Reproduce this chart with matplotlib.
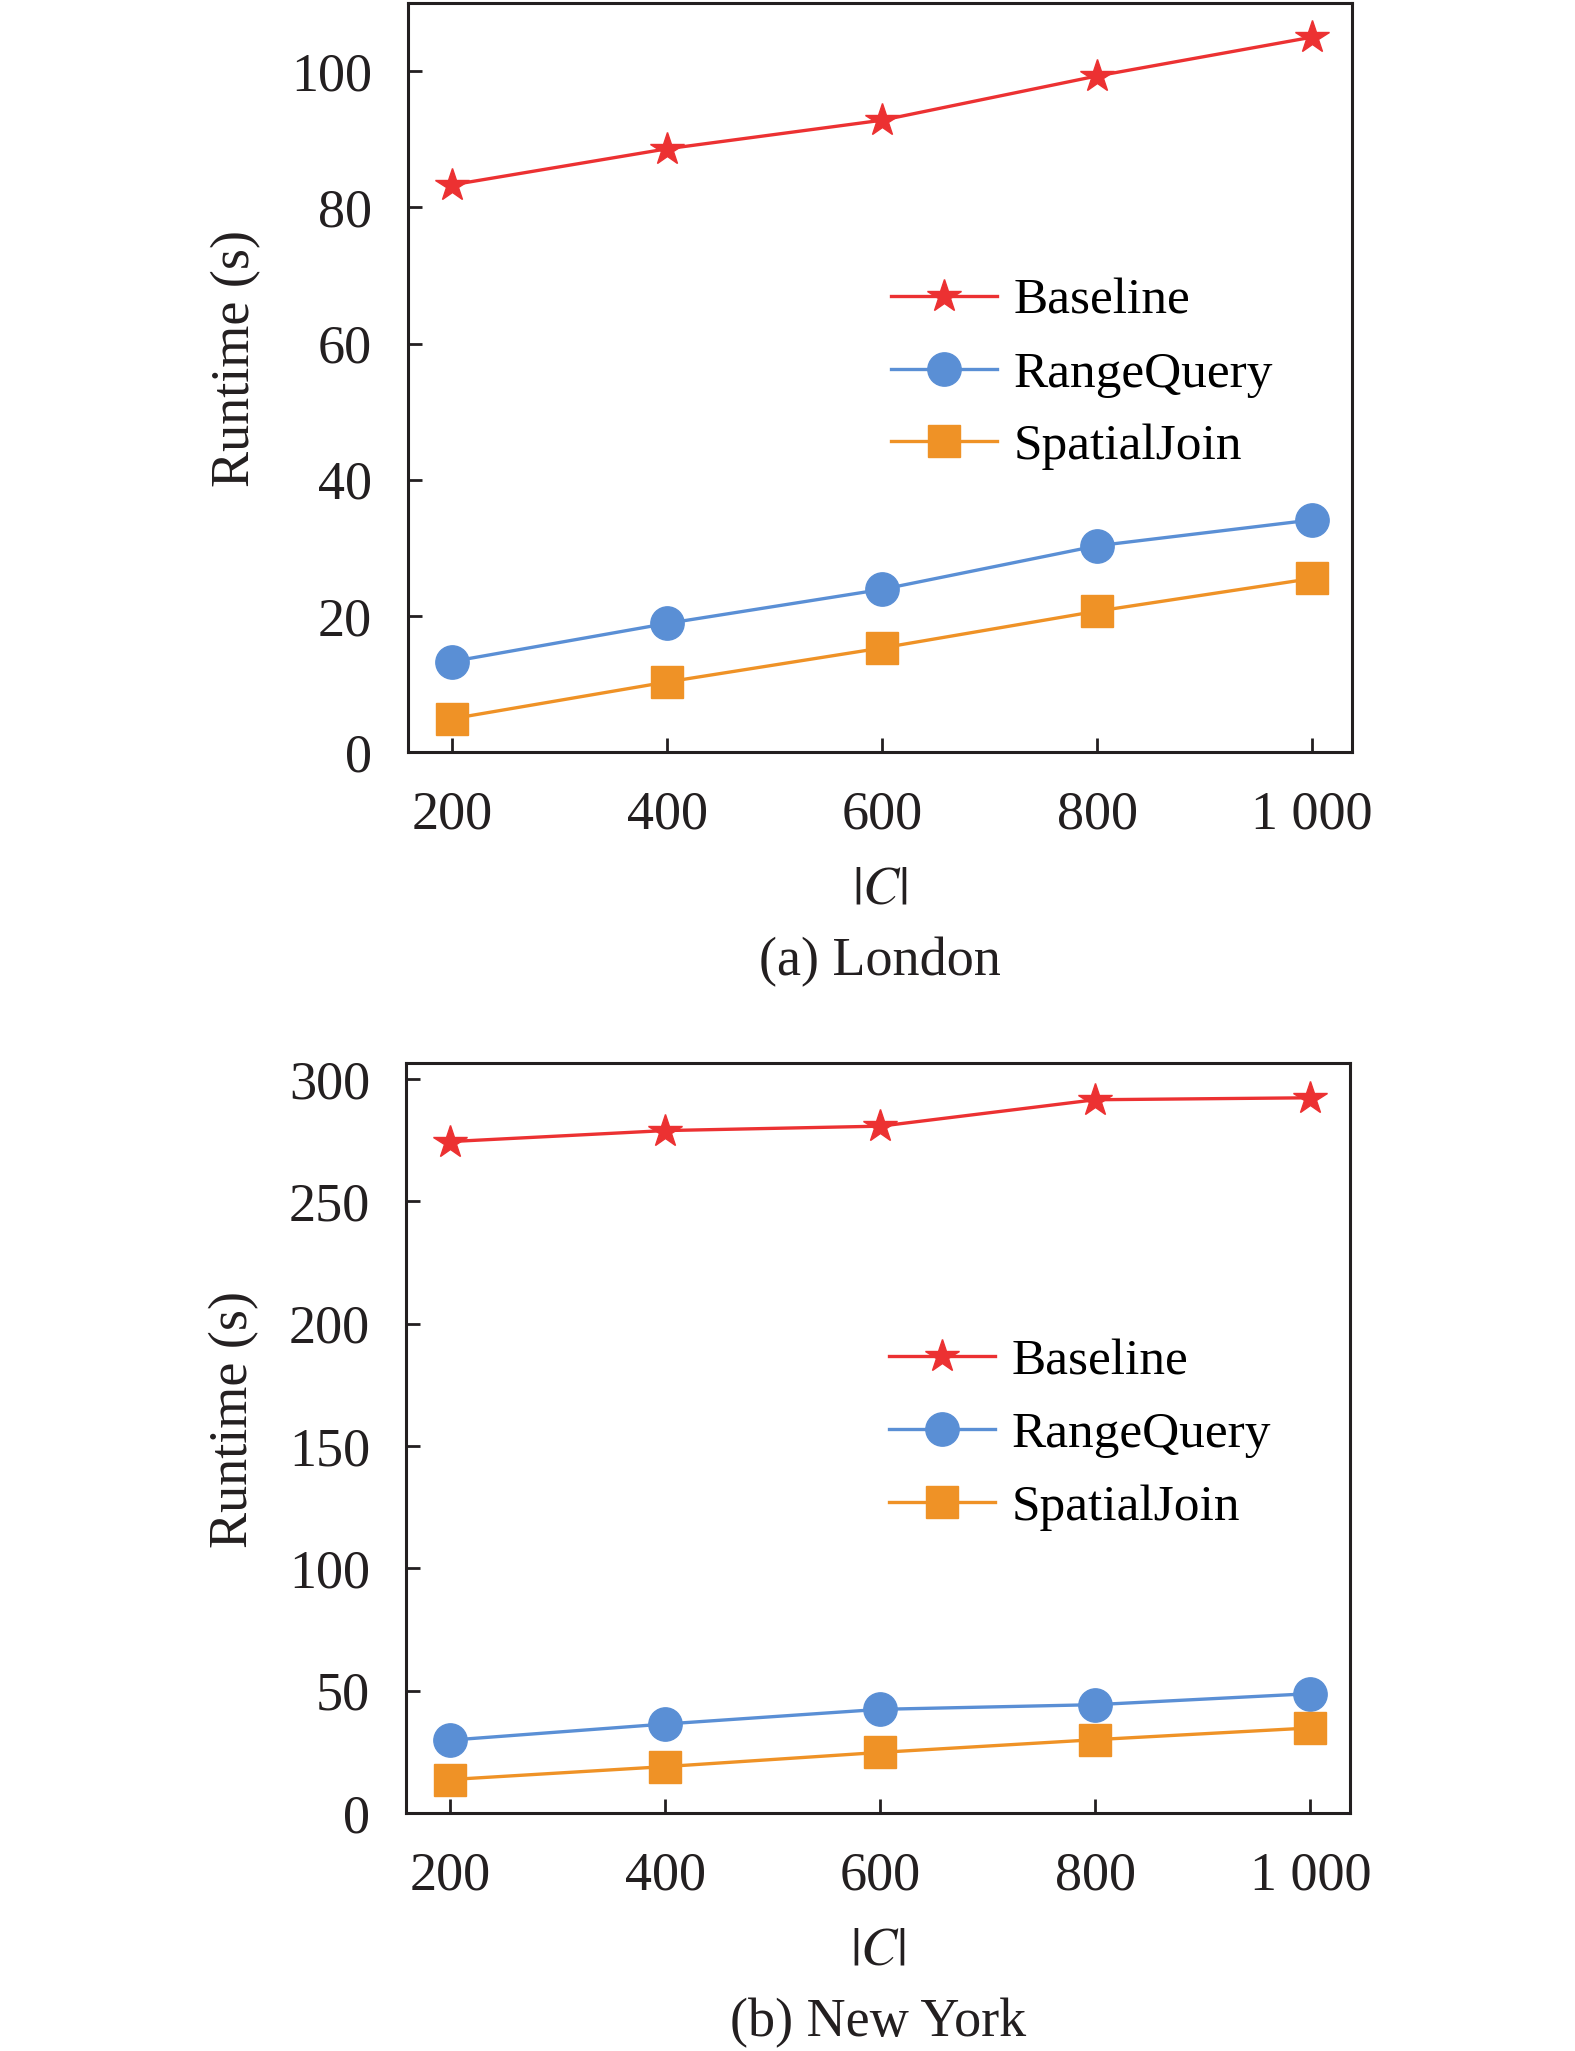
import matplotlib
matplotlib.use("Agg")
import matplotlib.pyplot as plt

# ============================================================
# Data
# ============================================================
sizes = [200, 400, 600, 800, 1000]
size_labels = ["200", "400", "600", "800", "1 000"]

london_baseline = [83.3, 88.6, 92.8, 99.3, 105.0]
london_range = [13.3, 18.9, 23.9, 30.3, 34.1]
london_join = [4.9, 10.3, 15.3, 20.7, 25.5]

ny_baseline = [274.4, 278.9, 280.7, 291.5, 292.3]
ny_range = [29.8, 36.4, 42.4, 44.3, 48.8]
ny_join = [13.7, 19.0, 24.8, 30.0, 34.8]

london_yticks = [0, 20, 40, 60, 80, 100]
ny_yticks = [0, 50, 100, 150, 200, 250, 300]

# ============================================================
# Style
# ============================================================
plt.rcParams['font.family'] = ['Liberation Serif', 'DejaVu Serif']
plt.rcParams['mathtext.fontset'] = 'stix'

RED = '#EC3132'
BLUE = '#5A8FD5'
ORANGE = '#EF9226'
INK = '#231F20'

fig = plt.figure(figsize=(15.75, 20.51), dpi=100)


def draw_panel(ax, baseline, rq, sj, yticks, ylim, caption):
    ax.plot(sizes, baseline, color=RED, lw=2.4, marker='*', ms=25, label='Baseline')
    ax.plot(sizes, rq, color=BLUE, lw=2.4, marker='o', ms=24, label='RangeQuery')
    ax.plot(sizes, sj, color=ORANGE, lw=2.4, marker='s', ms=23, label='SpatialJoin')
    ax.set_xlim(159, 1037)
    ax.set_ylim(*ylim)
    ax.set_xticks(sizes)
    ax.set_xticklabels(size_labels)
    ax.set_yticks(yticks)
    ax.tick_params(direction='in', length=10, width=2, labelsize=39, colors=INK)
    ax.tick_params(axis='x', pad=27)
    ax.tick_params(axis='y', pad=26)
    for sp in ax.spines.values():
        sp.set_linewidth(2.2)
        sp.set_color(INK)
    ax.set_ylabel('Runtime (s)', fontsize=39, color=INK)
    ax.yaxis.set_label_coords(-0.155, 0.525)
    ax.set_xlabel(r'$|C|$', fontsize=39, color=INK, labelpad=18)
    ax.text(0.5, -0.28, caption, transform=ax.transAxes, ha='center', va='center',
            fontsize=39, color=INK)
    ax.legend(loc='upper left', bbox_to_anchor=(0.512, 0.633), frameon=False,
              fontsize=37, handlelength=2.05, handletextpad=0.33, labelspacing=0.5,
              borderpad=0, borderaxespad=0)


ax1 = fig.add_axes([0.259, 0.6333, 0.5994, 0.3652])
draw_panel(ax1, london_baseline, london_range, london_join, london_yticks, (0, 110), '(a) London')

ax2 = fig.add_axes([0.2578, 0.1160, 0.5994, 0.3657])
draw_panel(ax2, ny_baseline, ny_range, ny_join, ny_yticks, (0, 306.5), '(b) New York')

plt.savefig("out.png", dpi=100)
